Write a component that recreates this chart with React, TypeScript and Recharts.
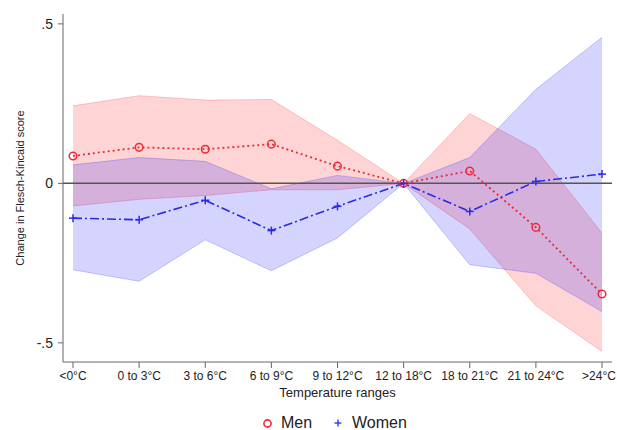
import {
  ComposedChart, Area, Line, XAxis, YAxis, ReferenceLine, Legend,
} from 'recharts'

const categories = ['<0°C', '0 to 3°C', '3 to 6°C', '6 to 9°C', '9 to 12°C', '12 to 18°C', '18 to 21°C', '21 to 24°C', '>24°C']
const men = [0.086, 0.113, 0.107, 0.123, 0.054, 0, 0.039, -0.138, -0.347]
const menLow = [-0.071, -0.05, -0.038, -0.02, -0.02, 0, -0.143, -0.384, -0.527]
const menHigh = [0.243, 0.275, 0.261, 0.263, 0.135, 0, 0.219, 0.107, -0.156]
const women = [-0.109, -0.114, -0.053, -0.148, -0.072, 0, -0.088, 0.006, 0.029]
const womenLow = [-0.271, -0.307, -0.177, -0.274, -0.171, 0, -0.255, -0.282, -0.402]
const womenHigh = [0.058, 0.081, 0.069, -0.017, 0.025, 0, 0.081, 0.295, 0.458]
const yTicks = [-0.5, 0, 0.5]

const data = categories.map((cat, i) => ({
  cat,
  men: men[i],
  women: women[i],
  menBand: [menLow[i], menHigh[i]],
  womenBand: [womenLow[i], womenHigh[i]],
}))

const RED = '#ee2a3a'
const BLUE = '#2a2aee'
const FONT = '"Liberation Sans", Arial, Helvetica, sans-serif'

function CircleDot(props: any) {
  const { cx, cy } = props
  if (cx == null || cy == null) return null
  return <circle cx={cx} cy={cy} r={3.8} fill="none" stroke={RED} strokeWidth={1.5} />
}

function PlusDot(props: any) {
  const { cx, cy } = props
  if (cx == null || cy == null) return null
  return (
    <g stroke={BLUE} strokeWidth={1.5}>
      <line x1={cx - 4} y1={cy} x2={cx + 4} y2={cy} />
      <line x1={cx} y1={cy - 4} x2={cx} y2={cy + 4} />
    </g>
  )
}

// last label sits against the right edge, nudge it in a little
function XTick(props: any) {
  const { x, y, payload, index } = props
  const last = index === categories.length - 1
  return (
    <text x={last ? x - 3 : x} y={y} dy="0.71em" textAnchor="middle" fontSize={12} fill="#222" fontFamily={FONT}>
      {payload.value}
    </text>
  )
}

// legend placed by hand under the plot, like the Stata original
function LegendBox() {
  const item = { position: 'absolute' as const, top: 9, height: 20, display: 'flex', alignItems: 'center' }
  return (
    <div style={{ position: 'relative', width: 617, height: 26, fontFamily: FONT, fontSize: 16, color: '#222' }}>
      <div style={{ ...item, left: 262 }}>
        <svg width={11} height={11}><circle cx={5.5} cy={5.5} r={3.6} fill="none" stroke={RED} strokeWidth={1.6} /></svg>
      </div>
      <div style={{ ...item, left: 281 }}>Men</div>
      <div style={{ ...item, left: 333 }}>
        <svg width={10} height={10}>
          <g stroke={BLUE} strokeWidth={1.3}>
            <line x1={1.5} y1={5} x2={8.5} y2={5} />
            <line x1={5} y1={1.5} x2={5} y2={8.5} />
          </g>
        </svg>
      </div>
      <div style={{ ...item, left: 352 }}>Women</div>
    </div>
  )
}

export default function App() {
  return (
    <div style={{ position: 'absolute', left: 0, top: 0, background: '#fff' }}>
      <ComposedChart width={617} height={430} data={data} margin={{ top: 14, right: 5, left: 0, bottom: 0 }}>
        <XAxis
          dataKey="cat"
          scale="point"
          padding={{ left: 10, right: 10 }}
          height={42}
          stroke="#666"
          tickSize={6}
          tickMargin={3}
          interval={0}
          tick={<XTick />}
          label={{ value: 'Temperature ranges', position: 'insideBottom', offset: 7, style: { fontSize: 13, fill: '#222', fontFamily: FONT } }}
        />
        <YAxis
          type="number"
          domain={[-0.56, 0.531]}
          ticks={yTicks}
          width={63}
          stroke="#666"
          tickSize={5}
          tickMargin={5}
          tickFormatter={v => (v === 0 ? '0' : String(v).replace('0.', '.'))}
          tick={{ fontSize: 14, fill: '#222', fontFamily: FONT }}
          label={{ value: 'Change in Flesch-Kincaid score', angle: -90, position: 'insideLeft', offset: 20, style: { fontSize: 11, fill: '#222', fontFamily: FONT, textAnchor: 'middle' } }}
        />
        <Legend verticalAlign="bottom" content={<LegendBox />} wrapperStyle={{ left: 0, width: 617, bottom: 0 }} />
        <Area type="linear" dataKey="menBand" fill="#ff0000" fillOpacity={0.17} stroke="#ff0000" strokeOpacity={0.2} strokeWidth={1} isAnimationActive={false} legendType="none" />
        <Area type="linear" dataKey="womenBand" fill="#0000ff" fillOpacity={0.17} stroke="#0000ff" strokeOpacity={0.2} strokeWidth={1} isAnimationActive={false} legendType="none" />
        <ReferenceLine y={0} stroke="#555" strokeWidth={1.5} />
        <Line type="linear" dataKey="men" stroke={RED} strokeWidth={1.8} strokeDasharray="2 3" dot={<CircleDot />} isAnimationActive={false} />
        <Line type="linear" dataKey="women" stroke={BLUE} strokeWidth={1.6} strokeDasharray="9 3 2 3" dot={<PlusDot />} isAnimationActive={false} />
      </ComposedChart>
    </div>
  )
}
